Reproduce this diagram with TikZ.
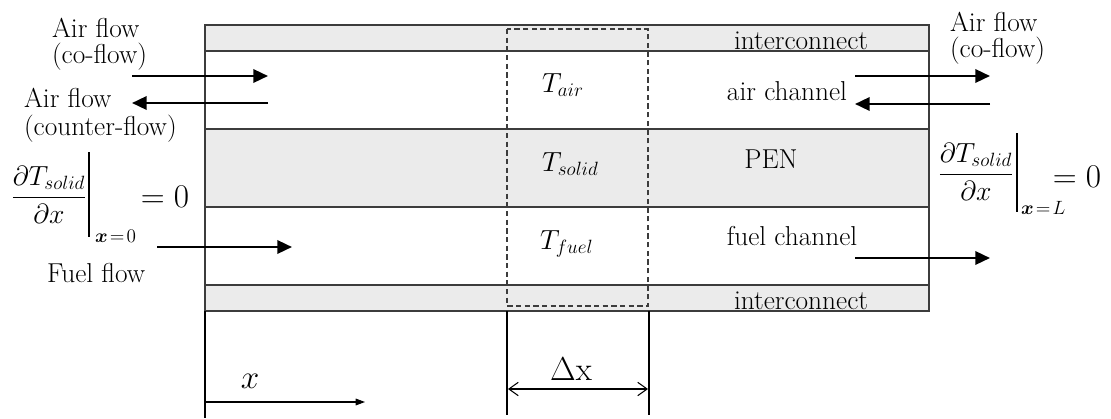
\documentclass[tikz,border=0pt]{standalone}
\usepackage{amsmath}
\usepackage{bm}
\usetikzlibrary{arrows.meta}
\definecolor{layergray}{HTML}{EBEBEB}
\definecolor{edgegray}{HTML}{3C3C3C}
\begin{document}
\begin{tikzpicture}[x=0.75pt,y=-0.75pt,
  every node/.style={inner sep=0pt,outer sep=0pt},
  txt/.style={font=\fontsize{20.5}{22}\selectfont},
  temp/.style={font=\fontsize{22}{24}\selectfont,anchor=base west},
  fracnode/.style={font=\fontsize{20}{24}\selectfont},
  eqnode/.style={font=\fontsize{23}{25}\selectfont},
  subnode/.style={font=\fontsize{13.5}{14}\selectfont,anchor=base west},
  layer/.style={draw=edgegray,line width=0.9pt},
  flow/.style={line width=1.8pt,-{Triangle[length=11pt,width=10pt]}},
  thin/.style={draw=black,line width=0.8pt},
  dim/.style={line width=0.8pt,{Straight Barb[length=7pt,width=10pt]}-{Straight Barb[length=7pt,width=10pt]}},
]
\useasboundingbox (0,0) rectangle (1111,418);

% cell layers: interconnect, air channel, PEN, fuel channel, interconnect
\fill[layergray] (205,25) rectangle (929,51);
\fill[layergray] (205,129) rectangle (929,207);
\fill[layergray] (205,285) rectangle (929,311);
\draw[layer] (205,51) -- (929,51);
\draw[layer] (205,129) -- (929,129);
\draw[layer] (205,207) -- (929,207);
\draw[layer] (205,285) -- (929,285);
\draw[draw=edgegray,line width=1.1pt] (205,25) rectangle (929,311);

% left axis line continues below the cell
\draw[thin] (205,311) -- (205,418);

% control volume
\draw[draw=edgegray,line width=0.8pt,dash pattern=on 4pt off 2.5pt] (507,29) rectangle (648,306);
\draw[thin] (507,311) -- (507,415);
\draw[thin] (649,311) -- (649,415);

% layer labels
\node[txt,anchor=base] (ictop) at (801,49) {interconnect};
\node[txt,anchor=base] (icbot) at (801,309) {interconnect};
\node[txt,anchor=base] (airch) at (787,100) {air channel};
\node[txt,anchor=base] (pen) at (771,168) {PEN};
\node[txt,anchor=base] (fuelch) at (792,245) {fuel channel};

% temperatures in the control volume
\node[temp] (tair) at (542,92) {$T_{air}$};
\node[temp] (tsolid) at (542,171) {$T_{solid}$};
\node[temp] (tfuel) at (540,249) {$T_{fuel}$};

% inlet labels
\node[txt,anchor=base west] (aircoL) at (52,37) {Air flow};
\node[txt,anchor=base west] (aircoL2) at (52,63) {(co-flow)};
\node[txt,anchor=base west] (aircntL) at (24,107) {Air flow};
\node[txt,anchor=base west] (aircntL2) at (24,135) {(counter-flow)};
\node[txt,anchor=base west] (fuelL) at (47,282) {Fuel flow};
\node[txt,anchor=base west] (aircoR) at (950,31) {Air flow};
\node[txt,anchor=base west] (aircoR2) at (950,57) {(co-flow)};

% flow arrows
\coordinate (a1s) at (132,76);  \coordinate (a1e) at (268,76);
\coordinate (a2s) at (268,103); \coordinate (a2e) at (132,103);
\coordinate (a3s) at (855,76);  \coordinate (a3e) at (990,76);
\coordinate (a4s) at (990,104); \coordinate (a4e) at (855,104);
\coordinate (f1s) at (157,247); \coordinate (f1e) at (292,247);
\coordinate (f2s) at (855,258); \coordinate (f2e) at (990,258);
\draw[flow] (a1s) -- (a1e);
\draw[flow] (a2s) -- (a2e);
\draw[flow] (a3s) -- (a3e);
\draw[flow] (a4s) -- (a4e);
\draw[flow] (f1s) -- (f1e);
\draw[flow] (f2s) -- (f2e);

% boundary condition at x = 0
\node[fracnode] (bcL) at (49,195) {$\displaystyle\frac{\partial T_{solid}}{\partial x}$};
\draw[line width=0.9pt] (89,152) -- (89,237);
\node[subnode] (bcLsub) at (95,242) {$\bm{x}\!=\!0$};
\node[eqnode] (bcLeq) at (165,197) {$=0$};

% boundary condition at x = L
\node[fracnode] (bcR) at (976,172) {$\displaystyle\frac{\partial T_{solid}}{\partial x}$};
\draw[line width=0.9pt] (1017,133) -- (1017,212);
\node[subnode] (bcRsub) at (1021,214) {$\bm{x}\!=\!L$};
\node[eqnode] (bcReq) at (1077,177) {$=0$};

% axis and cell width
\coordinate (xs) at (205,402);
\coordinate (xe) at (365,402);
\draw[line width=0.8pt,-{Triangle[length=7pt,width=5pt]}] (xs) -- (xe);
\node[font=\fontsize{27}{28}\selectfont,anchor=base] (xlab) at (250,388) {$x$};
\coordinate (dxs) at (508,389);
\coordinate (dxe) at (648,389);
\draw[dim] (dxs) -- (dxe);
\node[font=\fontsize{25}{26}\selectfont,anchor=base] (dxlab) at (571,380) {$\Delta\mathrm{x}$};
\end{tikzpicture}
\end{document}
